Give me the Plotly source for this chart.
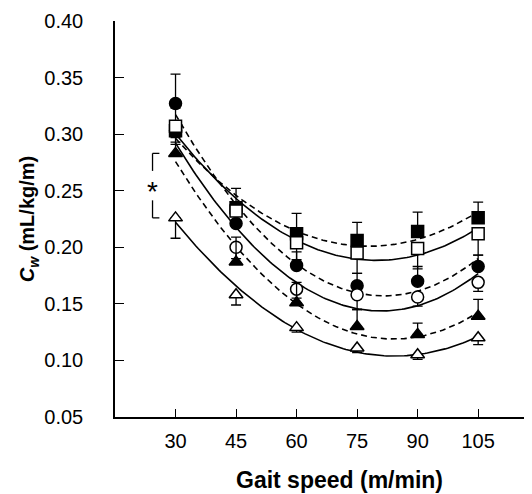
import numpy as np
import plotly.graph_objects as go

# Data
speeds = [30, 45, 60, 75, 90, 105]
tick_labels = ["30", "45", "60", "75", "90", "105"]

sq_filled = [0.303, 0.235, 0.212, 0.206, 0.214, 0.226]
sq_open = [0.307, 0.232, 0.204, 0.195, 0.199, 0.212]
ci_filled = [0.327, 0.221, 0.184, 0.166, 0.170, 0.183]
ci_open = [0.303, 0.200, 0.163, 0.158, 0.156, 0.169]
tr_filled = [0.283, 0.187, 0.151, 0.130, 0.123, 0.139]
tr_open = [0.226, 0.158, 0.129, 0.111, 0.105, 0.120]

sq_filled_err_up = [0.020, 0.017, 0.018, 0.016, 0.017, 0.014]
sq_open_err_dn = [0.010, 0.012, 0.015, 0.018, 0.018, 0.019]
ci_filled_err_up = [0.026, 0.012, 0.012, 0.011, 0.013, 0.010]
ci_open_err_dn = [0.012, 0.010, 0.008, 0.013, 0.008, 0.008]
tr_filled_err_up = [0.010, 0.022, 0.018, 0.015, 0.010, 0.015]
tr_open_err_dn = [0.018, 0.009, 0.004, 0.004, 0.004, 0.006]

# drawing order: circles, squares, triangles (open drawn after filled)
series = [
    (ci_filled, ci_filled_err_up, "up", "circle", True),
    (ci_open, ci_open_err_dn, "down", "circle", False),
    (sq_filled, sq_filled_err_up, "up", "square", True),
    (sq_open, sq_open_err_dn, "down", "square", False),
    (tr_filled, tr_filled_err_up, "up", "triangle-up", True),
    (tr_open, tr_open_err_dn, "down", "triangle-up", False),
]

fig = go.Figure()

xs = np.array(speeds, dtype=float)
xfit = np.linspace(xs.min(), xs.max(), 120)

# fitted quadratic curves
for vals, err, d, sym, filled in series:
    coef = np.polyfit(xs, np.array(vals), 2)
    fig.add_trace(go.Scatter(
        x=xfit, y=np.polyval(coef, xfit), mode="lines",
        line=dict(color="black", width=1.6, dash="6px,4px" if filled else "solid"),
        hoverinfo="skip", showlegend=False))

# markers with error bars
for vals, err, d, sym, filled in series:
    zeros = [0] * len(err)
    ey = dict(type="data", symmetric=False,
              array=err if d == "up" else zeros,
              arrayminus=zeros if d == "up" else err,
              color="black", thickness=1.3, width=5)
    fig.add_trace(go.Scatter(
        x=speeds, y=vals, mode="markers", error_y=ey,
        marker=dict(symbol=sym, size=12,
                    color="black" if filled else "white",
                    line=dict(color="black", width=1.5)),
        showlegend=False))

# significance bracket between filled and open triangles at 30 m/min
top = tr_filled[0]
bot = tr_open[0]
mid = (top + bot) / 2
gap = 0.013
bx0, bx1 = 24.3, 26.0
line_style = dict(color="black", width=1.3)
fig.add_shape(type="line", xref="x", yref="y", x0=bx0, x1=bx0, y0=top, y1=mid + gap, line=line_style)
fig.add_shape(type="line", xref="x", yref="y", x0=bx0, x1=bx0, y0=mid - gap, y1=bot, line=line_style)
fig.add_shape(type="line", xref="x", yref="y", x0=bx0, x1=bx1, y0=top, y1=top, line=line_style)
fig.add_shape(type="line", xref="x", yref="y", x0=bx0, x1=bx1, y0=bot, y1=bot, line=line_style)
fig.add_annotation(x=bx0, y=mid, xref="x", yref="y", text="*", showarrow=False,
                   font=dict(size=28, color="black", family="Liberation Sans"),
                   xanchor="center", yanchor="middle", yshift=-6)

fig.add_annotation(x=0.54, y=-0.16, xref="paper", yref="paper",
                   text="<b>Gait speed (m/min)</b>", showarrow=False,
                   font=dict(size=23, color="black", family="Liberation Sans"),
                   xanchor="center", yanchor="middle")

# page body has an 8px default margin, so the figure is sized to fit the window
fig.update_layout(
    width=524, height=486,
    margin=dict(l=107, r=2, t=13, b=76.5),
    paper_bgcolor="white", plot_bgcolor="white",
    font=dict(family="Liberation Sans", size=20, color="black"),
    showlegend=False,
)
fig.update_xaxes(
    range=[15, 117.85], tickvals=speeds, ticktext=tick_labels,
    ticks="inside", ticklen=8, tickwidth=1.3, tickcolor="black",
    showline=True, linecolor="black", linewidth=1.5, showgrid=False, zeroline=False,
    ticklabelstandoff=5, tickfont=dict(size=20), automargin=False,
)
fig.update_yaxes(
    range=[0.05, 0.40], tickvals=[0.05, 0.10, 0.15, 0.20, 0.25, 0.30, 0.35, 0.40],
    tickformat=".2f",
    ticks="inside", ticklen=9, tickwidth=1.3, tickcolor="black",
    showline=True, linecolor="black", linewidth=1.5, showgrid=False, zeroline=False,
    ticklabelstandoff=26, tickfont=dict(size=20), automargin=False,
    title=dict(text="<b><i>C<sub>w</sub></i> (mL/kg/m)</b>", font=dict(size=20), standoff=4),
)

fig.write_html("out.html")
